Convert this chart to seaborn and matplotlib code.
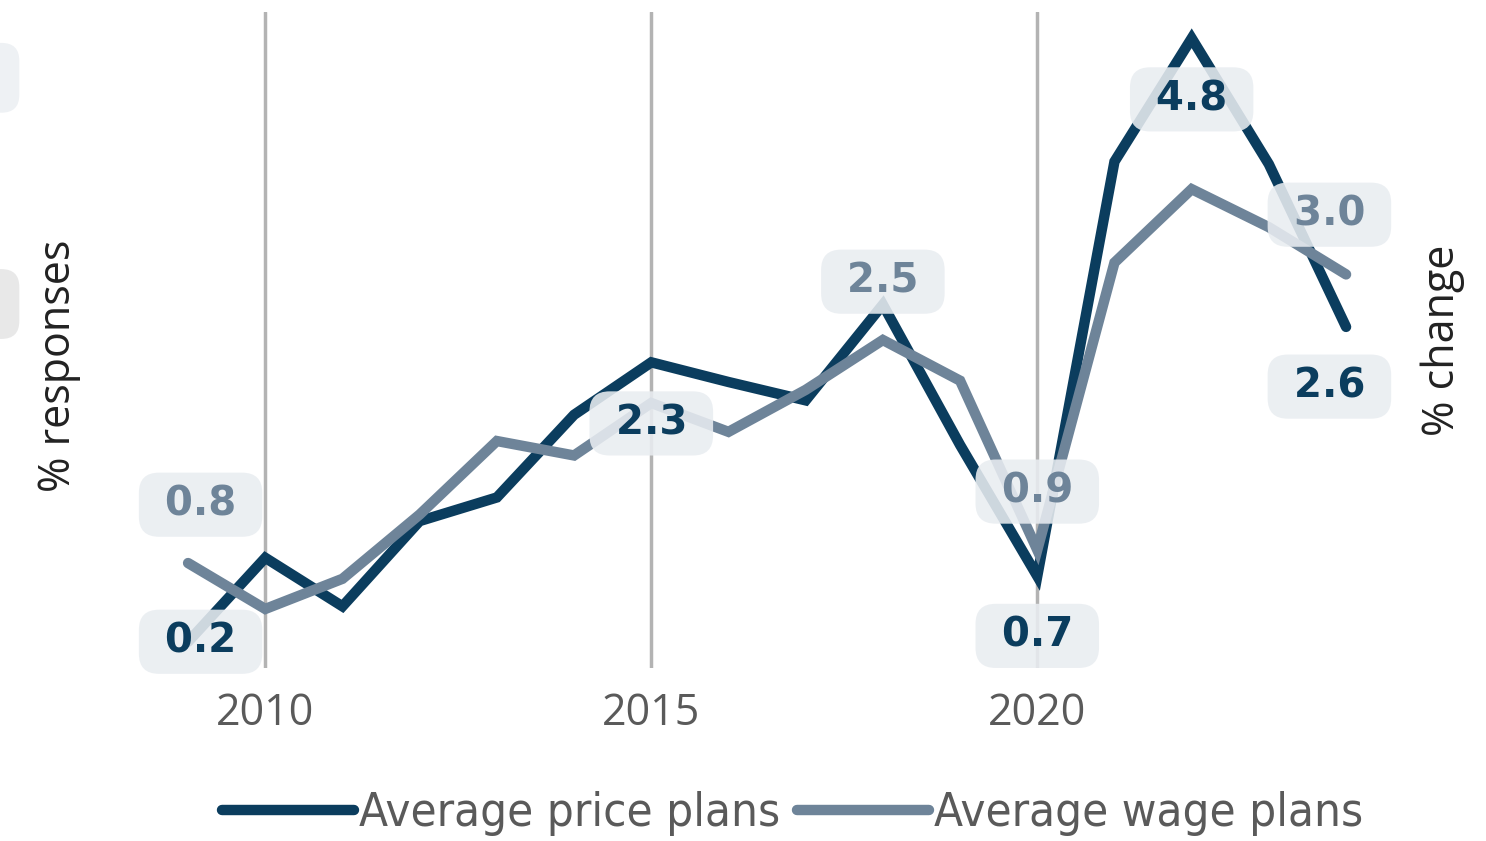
import pandas as pd
import matplotlib.pyplot as plt
import seaborn as sns
from matplotlib.patches import FancyBboxPatch

# Values
years = list(range(2009, 2025))
price_plans = [0.2, 0.84, 0.47, 1.12, 1.30, 1.93, 2.33, 2.18, 2.04, 2.77, 1.70, 0.7, 3.86, 4.8, 3.84, 2.6]
wage_plans = [0.8, 0.45, 0.68, 1.17, 1.73, 1.62, 2.02, 1.80, 2.12, 2.5, 2.19, 0.9, 3.09, 3.65, 3.36, 3.0]
series_names = ["Average price plans", "Average wage plans"]
tick_years = [2010, 2015, 2020]

# labelled points: (year, offset in points)
price_labels = [(2009, (9, 0)), (2015, (0, -44)), (2020, (0, -43)), (2022, (0, -44)), (2024, (-12, -43))]
wage_labels = [(2009, (9, 42)), (2018, (0, 42)), (2020, (0, 42)), (2024, (-12, 43))]

dark = "#0b3d5e"
light = "#6e8499"

df = pd.DataFrame({
    "Year": years * 2,
    "Value": price_plans + wage_plans,
    "Series": [series_names[0]] * len(years) + [series_names[1]] * len(years),
})

sns.set_theme(style="white")
plt.rcParams["font.family"] = ["Open Sans", "DejaVu Sans"]

fig = plt.figure(figsize=(14.86, 8.41), dpi=100)
ax = fig.add_axes([0.0902, 0.2057, 0.852, 0.78])

sns.lineplot(
    data=df, x="Year", y="Value", hue="Series",
    palette=[dark, light], lw=7.5, ax=ax,
    solid_capstyle="round", solid_joinstyle="miter",
)

ax.set_xlim(2008.3, 2024.7)
ax.set_ylim(0, 5)
ax.set_xticks(tick_years)
ax.set_yticks([])
for y in tick_years:
    ax.axvline(y, color="#b3b3b3", lw=2.5, zorder=0)
for s in ax.spines.values():
    s.set_visible(False)
ax.tick_params(axis="x", length=0, labelsize=31, labelcolor="#5a5a5a", pad=17)
ax.set_xlabel("")
ax.set_ylabel("% responses", fontsize=31, color="#222222")
ax.yaxis.set_label_coords(-0.042, 0.46)

ax2 = ax.twinx()
ax2.set_yticks([])
for s in ax2.spines.values():
    s.set_visible(False)
ax2.set_ylabel("% change", fontsize=31, color="#222222")
ax2.yaxis.set_label_coords(1.016, 0.50)


def add_label(year, values, offset, color):
    v = values[years.index(year)]
    ax.annotate(
        f" {v:.1f} ", xy=(year, v), xytext=offset, textcoords="offset points",
        ha="center", va="center", fontsize=29, fontweight="bold", color=color,
        family=["DejaVu Sans"],
        bbox=dict(boxstyle="round,pad=0.3,rounding_size=0.5", fc="#e9edf1", ec="none", alpha=0.88),
        zorder=5,
    )


for yr, off in price_labels:
    add_label(yr, price_plans, off, dark)
for yr, off in wage_labels:
    add_label(yr, wage_plans, off, light)

# cut-off boxes at the left edge
for y0, col in [(0.866, "#eef1f4"), (0.597, "#e8e8e8")]:
    fig.patches.append(FancyBboxPatch((-0.02, y0), 0.033, 0.083, boxstyle="round,pad=0,rounding_size=0.012",
                                      transform=fig.transFigure, fc=col, ec="none", mutation_aspect=1.77))

leg = ax.legend(
    loc="center", bbox_to_anchor=(0.52, -0.222), ncol=2, frameon=False,
    fontsize=34, handlelength=2.8, handletextpad=0.1, columnspacing=0.35,
    labelcolor="#5a5a5a",
)
for t in leg.get_texts():
    t.set_fontstretch("condensed")
    t.set_family(["DejaVu Sans"])
for h in leg.get_lines():
    h.set_linewidth(7.5)

fig.savefig("out.png", dpi=100)
